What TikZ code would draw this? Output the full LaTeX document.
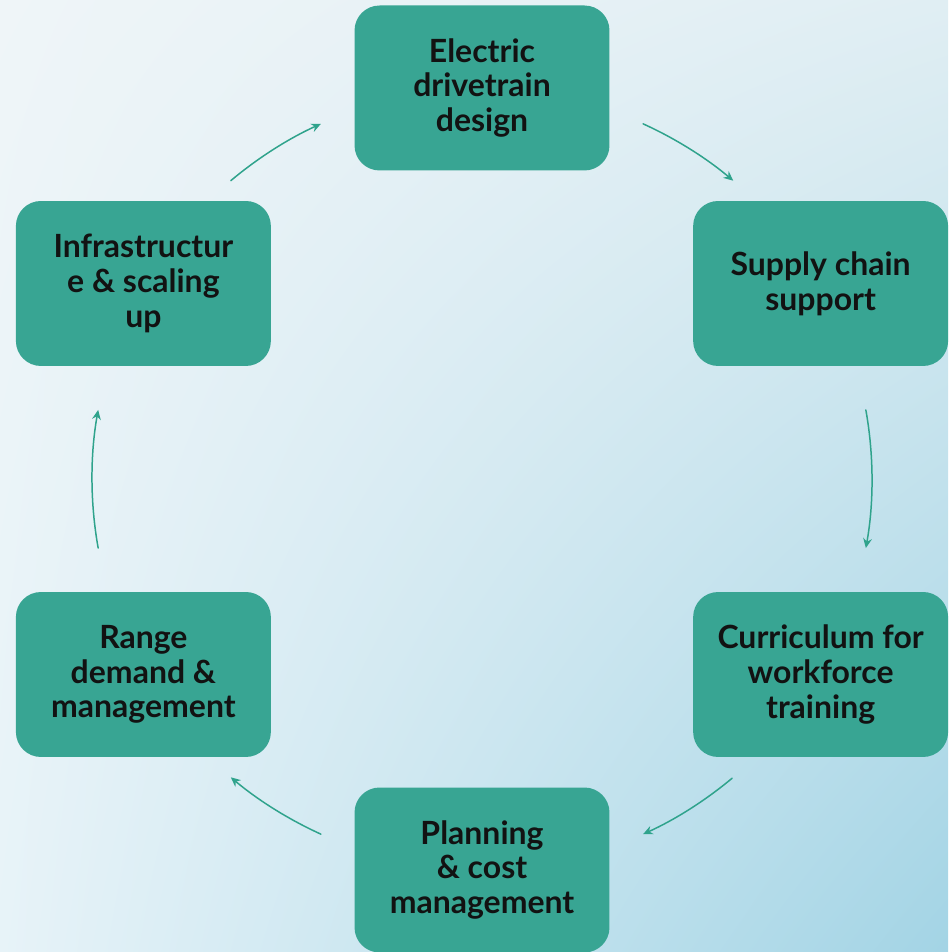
\documentclass[tikz,border=0pt]{standalone}
\usepackage{fontspec}
\setmainfont{Lato}
\usetikzlibrary{arrows.meta,shadings}
\definecolor{boxgreen}{HTML}{38A593}
\definecolor{arrowgreen}{HTML}{2FA38C}
\definecolor{bgA}{HTML}{EFF5F8}
\definecolor{bgB}{HTML}{E0EEF3}
\definecolor{bgC}{HTML}{E7F3F8}
\definecolor{bgD}{HTML}{A3D4E5}
\begin{document}
\begin{tikzpicture}[x=0.02cm, y=0.02cm, line join=round, line cap=round,
	box/.style={fill=boxgreen, rounded corners=0.5cm, minimum width=5.1cm, minimum height=3.3cm, inner sep=0pt, align=center, text=black!93, font=\fontsize{18.2}{19.8}\selectfont\bfseries},
	flow/.style={draw=arrowgreen, line width=0.85pt, -{Stealth[length=5.5pt,width=5pt]}, looseness=0.85}]
	\useasboundingbox (0,0) rectangle (948,952);
	\shade[upper left=bgA, upper right=bgB, lower left=bgC, lower right=bgD] (0,0) rectangle (948,952);
	\path (482,473) coordinate (O);
	\foreach\nm/\ang/\txt in {D/90/{Electric\\drivetrain\\design}, S/30/{Supply chain\\support}, C/-30/{Curriculum for\\workforce\\training}, P/-90/{Planning\\\& cost\\management}, R/210/{Range\\demand \&\\management}, I/150/{Infrastructur\\e \& scaling\\up}}{\node[box] (\nm) at ([shift={(\ang:391)}]O) {\txt};}
	\foreach\s/\e [count=\i] in {65.6/49.9, 10.2/-10.2, -50.1/-65.6, -114.4/-130.1, 190.2/169.8, 130.1/114.4}{
		\pgfmathsetmacro\bnd{(\s-\e)/2}
		\path ([shift={(\s:390)}]O) coordinate (a\i) ([shift={(\e:390)}]O) coordinate (b\i);
		\draw[flow] (a\i) to[bend left=\bnd] (b\i);
	}
\end{tikzpicture}
\end{document}
